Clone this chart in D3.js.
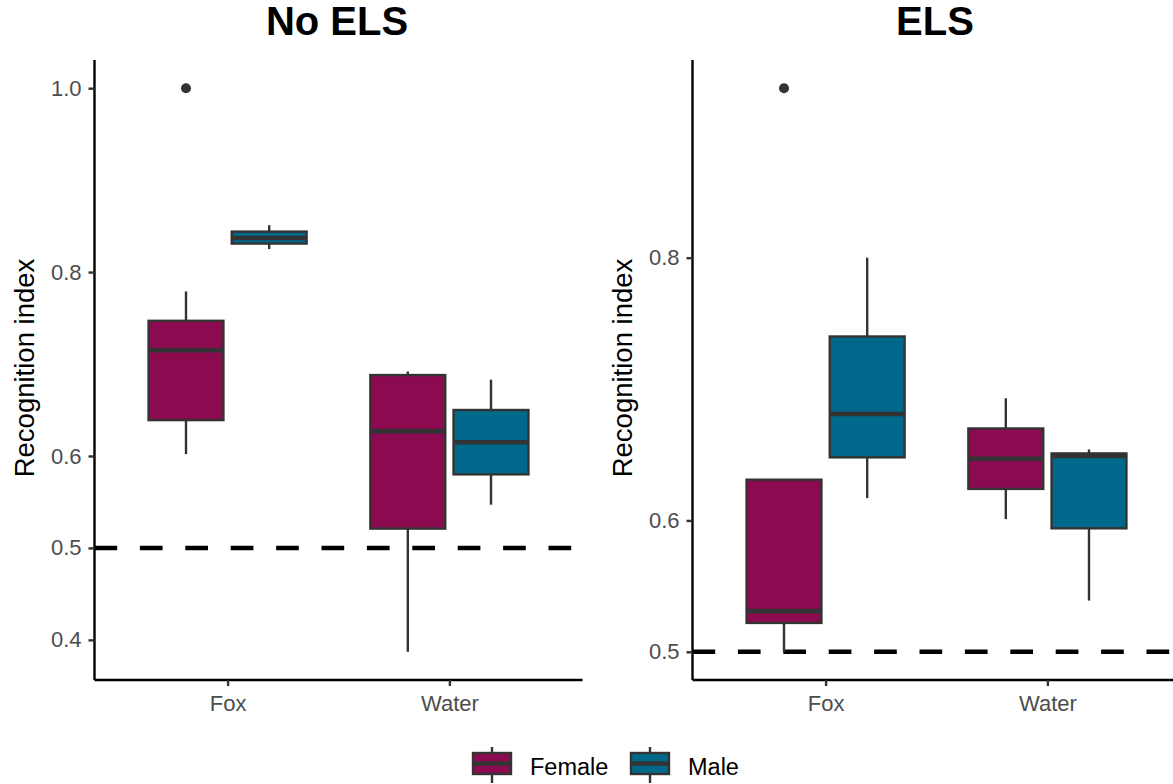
<!DOCTYPE html>
<html>
<head>
<meta charset="utf-8">
<script src="https://cdn.jsdelivr.net/npm/d3@7"></script>
<style>
  body { margin: 0; background: #fff; }
  text { font-family: "Liberation Sans", Arial, sans-serif; }
</style>
</head>
<body>
<div id="container"></div>
<script>
/* CONSTANTS AND GLOBALS */
const width = 1173,
  height = 784;

const groups = ["Fox", "Water"];
const sexes = ["Female", "Male"];
const colors = ["#8B0A50", "#00688B"];
const chance = 0.5;

// box stats: group, sex, whisker low, q1, median, q3, whisker high
const noElsBoxes = [
  ["Fox", "Female", 0.602, 0.639, 0.715, 0.747, 0.779],
  ["Fox", "Male", 0.825, 0.831, 0.837, 0.844, 0.851],
  ["Water", "Female", 0.387, 0.521, 0.627, 0.688, 0.692],
  ["Water", "Male", 0.547, 0.580, 0.615, 0.650, 0.683]
];
const noElsOutliers = [["Fox", "Female", 1.0]];

const elsBoxes = [
  ["Fox", "Female", 0.500, 0.522, 0.531, 0.631, 0.631],
  ["Fox", "Male", 0.617, 0.648, 0.681, 0.740, 0.800],
  ["Water", "Female", 0.601, 0.624, 0.647, 0.670, 0.693],
  ["Water", "Male", 0.539, 0.594, 0.649, 0.651, 0.654]
];
const elsOutliers = [["Fox", "Female", 0.929]];

const noElsTicks = [0.4, 0.5, 0.6, 0.8, 1.0];
const elsTicks = [0.5, 0.6, 0.8];

const panels = [
  { title: "No ELS", boxes: noElsBoxes, outliers: noElsOutliers, ticks: noElsTicks, left: 94.5 },
  { title: "ELS", boxes: elsBoxes, outliers: elsOutliers, ticks: elsTicks, left: 692.5 }
];

const panelW = 488, plotTop = 60, plotBottom = 680;

// APPEND SVG
const svg = d3.select("#container")
  .append("svg")
  .attr("width", width)
  .attr("height", height)

const color = d3.scaleOrdinal().domain(sexes).range(colors)

panels.forEach(p => {
  const g = svg.append("g")

  // y domain from data with 5% expansion
  const vals = p.boxes.flatMap(d => [d[2], d[6]]).concat(p.outliers.map(d => d[2]))
  const lo = d3.min(vals), hi = d3.max(vals), pad = (hi - lo) * 0.05
  const y = d3.scaleLinear().domain([lo - pad, hi + pad]).range([plotBottom, plotTop])

  const x = d3.scalePoint().domain(groups).range([p.left, p.left + panelW]).padding(0.6)
  const step = x.step()
  const offset = d => (d === "Female" ? -1 : 1) * 0.1875 * step
  const boxW = 0.3375 * step

  // dashed reference line
  g.append("line")
    .attr("x1", p.left).attr("x2", p.left + panelW)
    .attr("y1", y(chance)).attr("y2", y(chance))
    .attr("stroke", "black")
    .attr("stroke-width", 4.5)
    .attr("stroke-dasharray", "22.7,22.7")

  const boxes = g.selectAll("g.box")
    .data(p.boxes)
    .join("g")
    .attr("class", "box")
    .attr("transform", d => `translate(${x(d[0]) + offset(d[1])},0)`)

  boxes.append("line")
    .attr("y1", d => y(d[2])).attr("y2", d => y(d[6]))
    .attr("stroke", "#333").attr("stroke-width", 2.4)

  boxes.append("rect")
    .attr("x", -boxW / 2).attr("width", boxW)
    .attr("y", d => y(d[5]))
    .attr("height", d => y(d[3]) - y(d[5]))
    .attr("fill", d => color(d[1]))
    .attr("stroke", "#333").attr("stroke-width", 2.4)

  boxes.append("line")
    .attr("x1", -boxW / 2).attr("x2", boxW / 2)
    .attr("y1", d => y(d[4])).attr("y2", d => y(d[4]))
    .attr("stroke", "#333").attr("stroke-width", 4.6)

  g.selectAll("circle.out")
    .data(p.outliers)
    .join("circle")
    .attr("class", "out")
    .attr("cx", d => x(d[0]) + offset(d[1]))
    .attr("cy", d => y(d[2]))
    .attr("r", 5)
    .attr("fill", "#333")

  // AXES
  const yAxis = g.append("g")
    .attr("transform", `translate(${p.left},0)`)
    .call(d3.axisLeft(y).tickValues(p.ticks).tickFormat(d3.format(".1f")).tickSize(6).tickPadding(7))
  const xAxis = g.append("g")
    .attr("transform", `translate(0,${plotBottom})`)
    .call(d3.axisBottom(x).tickSize(6).tickPadding(9))

  ;[yAxis, xAxis].forEach(a => {
    a.select(".domain").attr("stroke", "black").attr("stroke-width", 2.4)
    a.selectAll(".tick line").attr("stroke", "#333").attr("stroke-width", 2.4)
    a.selectAll(".tick text").attr("fill", "#4d4d4d").attr("font-size", 22)
      .style("font-family", '"Liberation Sans", Arial, sans-serif')
  })
  yAxis.select(".domain").attr("d", `M0,${plotTop}V${plotBottom}`)
  xAxis.select(".domain").attr("d", `M${p.left},0H${p.left + panelW}`)

  // titles
  g.append("text")
    .attr("x", p.left + panelW / 2 - 1.5)
    .attr("y", 35)
    .attr("text-anchor", "middle")
    .attr("font-size", 40)
    .attr("font-weight", "bold")
    .text(p.title)

  g.append("text")
    .attr("transform", `translate(${p.left - 61},${(plotTop + plotBottom) / 2 - 2}) rotate(-90)`)
    .attr("text-anchor", "middle")
    .attr("font-size", 27.5)
    .text("Recognition index")
})

// LEGEND
const legend = svg.selectAll("g.legend")
  .data(sexes)
  .join("g")
  .attr("class", "legend")
  .attr("transform", (d, i) => `translate(${473 + i * 158},0)`)

legend.append("line")
  .attr("x1", 19).attr("x2", 19).attr("y1", 747).attr("y2", 783)
  .attr("stroke", "#333").attr("stroke-width", 2.4)
legend.append("rect")
  .attr("x", 0).attr("y", 753).attr("width", 38).attr("height", 21)
  .attr("fill", d => color(d))
  .attr("stroke", "#333").attr("stroke-width", 2.4)
legend.append("line")
  .attr("x1", 0).attr("x2", 38).attr("y1", 763.5).attr("y2", 763.5)
  .attr("stroke", "#333").attr("stroke-width", 4.6)
legend.append("text")
  .attr("x", 57).attr("y", 775)
  .attr("font-size", 23.5)
  .text(d => d)
</script>
</body>
</html>
